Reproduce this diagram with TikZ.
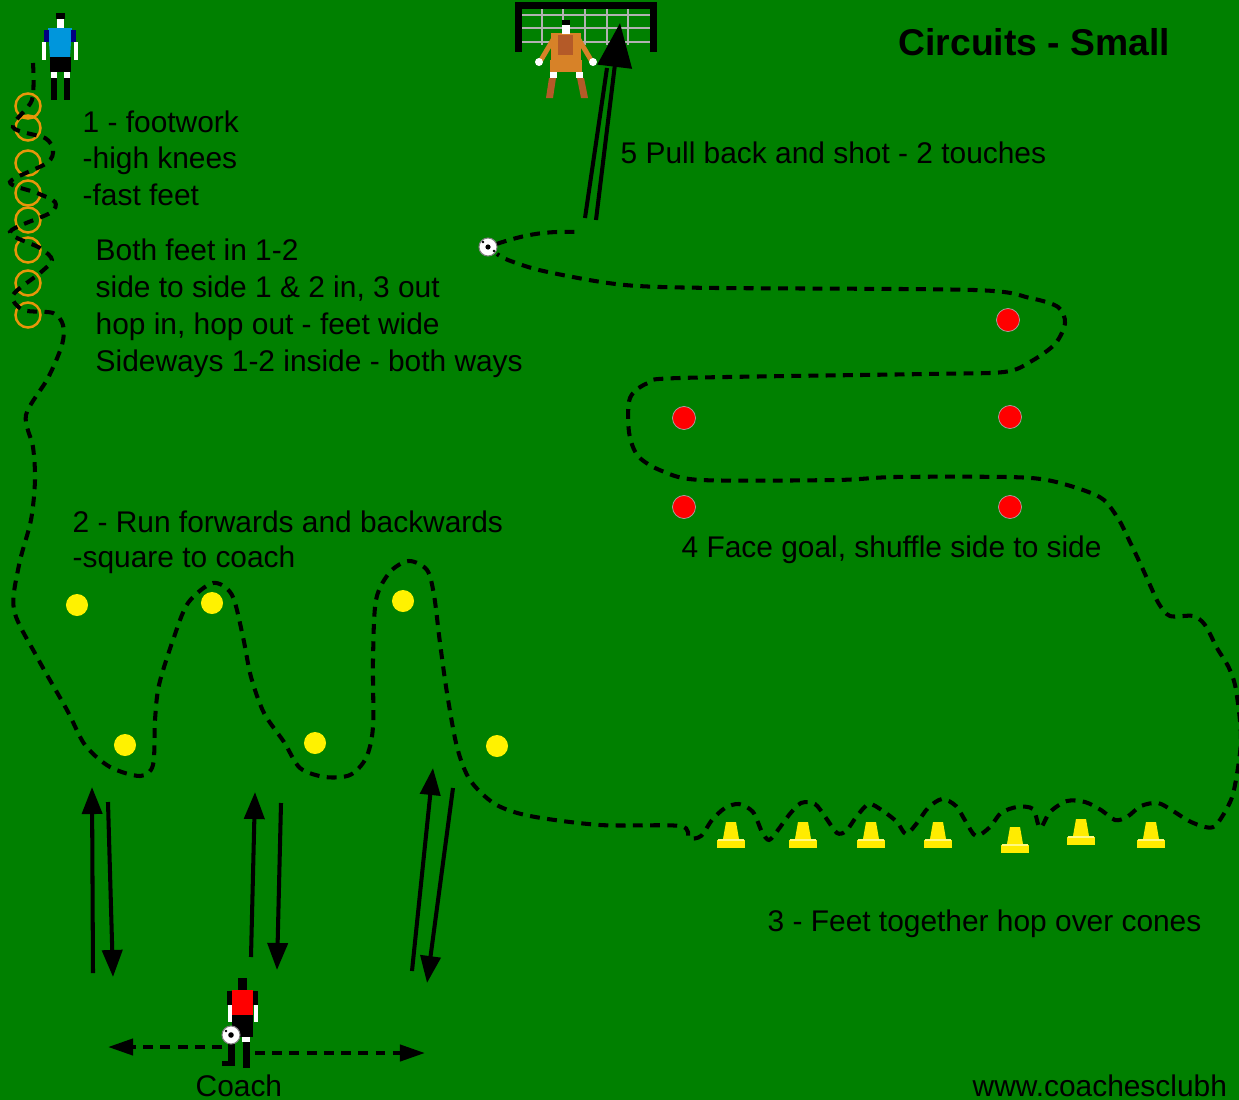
\documentclass[tikz,border=0pt]{standalone}
\usepackage{fontspec}
\setmainfont{Liberation Sans}
\usepackage{tikz}
\usetikzlibrary{arrows.meta,positioning}

\definecolor{pitch}{RGB}{0,128,0}
\definecolor{ringorange}{RGB}{232,150,10}
\definecolor{coneyellow}{RGB}{255,236,0}
\definecolor{keeper}{RGB}{215,130,40}
\definecolor{keeperdark}{RGB}{180,90,40}
\definecolor{shirtblue}{RGB}{0,150,220}

\begin{document}
\begin{tikzpicture}[x = 0.01cm, y = -0.01cm]
%\draw[very thin, color = gray, step = 100](0, 0) grid (1239, 1100);
\tikzstyle{txt} = [anchor = west, inner sep = 0, align = left,
  font = \fontsize{8.5}{10.4}\selectfont];
\tikzstyle{title} = [anchor = west, inner sep = 0,
  font = \bfseries\fontsize{10.6}{12}\selectfont];
\tikzstyle{route} = [draw, line width = 1.15pt, dash pattern = on 2.8pt off 2.1pt];
\tikzstyle{line} = [draw, line width = 1.15pt, -{Triangle[length = 0.27cm, width = 0.2cm]}]
\tikzstyle{shuffle} = [route, -{Triangle[length = 0.25cm, width = 0.16cm]}]
\tikzstyle{ring} = [circle, draw = ringorange, line width = 0.7pt, minimum size = 0.25cm, inner sep = 0]
\tikzstyle{ydot} = [circle, fill = yellow, minimum size = 0.22cm, inner sep = 0]
\tikzstyle{rdot} = [circle, fill = red, draw = gray!70, line width = 0.2pt, minimum size = 0.23cm, inner sep = 0]
\tikzstyle{ball} = [circle, fill = white, draw = gray, line width = 0.3pt, minimum size = 0.18cm, inner sep = 0]

\clip (0, 0) rectangle (1239, 1100);
\fill [pitch] (0, 0) rectangle (1239, 1100);

% goal
\fill [black] (515, 2) rectangle (657, 9);
\fill [black] (515, 2) rectangle (522, 52);
\fill [black] (650, 2) rectangle (657, 52);
\foreach \nx in {542, 563, 585, 607, 628}
  \draw [gray!60, line width = 0.5pt] (\nx, 9) -- (\nx, 45);
\foreach \ny in {15, 28, 42}
  \draw [gray!60, line width = 0.5pt] (522, \ny) -- (650, \ny);

% keeper
\draw [keeper, line width = 1.4pt] (554, 38) -- (541, 60);
\draw [keeper, line width = 1.4pt] (578, 38) -- (591, 60);
\fill [white] (539, 62) circle (4);
\fill [white] (593, 62) circle (4);
\fill [keeper] (551, 33) rectangle (581, 63);
\fill [keeperdark] (558, 35) rectangle (573, 55);
\fill [black] (562, 20) rectangle (570, 25);
\fill [white] (562, 25) rectangle (570, 34);
\fill [keeper] (550, 60) rectangle (582, 72);
\fill [white] (550, 72) rectangle (557, 78);
\fill [white] (576, 72) rectangle (583, 78);
\fill [keeperdark] (549, 78) -- (556, 78) -- (553, 98) -- (546, 98) -- cycle;
\fill [keeperdark] (577, 78) -- (584, 78) -- (588, 98) -- (581, 98) -- cycle;

% player on the rings
\fill [shirtblue] (48, 28) -- (72, 28) -- (70, 57) -- (50, 57) -- cycle;
\fill [blue!50!black] (44, 30) rectangle (49, 42);
\fill [blue!50!black] (71, 30) rectangle (76, 42);
\fill [white] (42, 42) rectangle (46, 60);
\fill [white] (74, 42) rectangle (78, 60);
\fill [black] (56, 13) rectangle (65, 19);
\fill [white] (57, 19) rectangle (64, 28);
\fill [black] (50, 57) rectangle (71, 72);
\fill [white] (51, 72) rectangle (57, 78);
\fill [white] (64, 72) rectangle (70, 78);
\fill [black] (51, 78) rectangle (57, 100);
\fill [black] (64, 78) rectangle (70, 100);

% coach
\fill [black] (227, 991) rectangle (258, 1005);
\fill [white] (228, 1005) rectangle (232, 1022);
\fill [white] (254, 1005) rectangle (258, 1022);
\fill [red] (232, 990) rectangle (253, 1017);
\fill [black] (238, 978) rectangle (247, 990);
\fill [black] (232, 1015) rectangle (253, 1037);
\fill [white] (242, 1037) rectangle (250, 1042);
\fill [black] (228, 1037) rectangle (235, 1065);
\fill [black] (243, 1042) rectangle (250, 1068);
\fill [black] (222, 1061) rectangle (235, 1066);
\node [ball] (coachball) at (231, 1035) {};
\fill [black] (231, 1035) circle (2.8);
\fill [black] (226, 1031) circle (1.4);
\coordinate (coach) at (240, 1030);

% rings, markers and cones
\foreach \ry [count = \i] in {106, 128, 163, 193, 220, 250, 283, 315}
  \node [ring] (ring\i) at (28, \ry) {};
\node [ydot] (y1) at (77, 605) {};
\node [ydot] (y2) at (212, 603) {};
\node [ydot] (y3) at (403, 601) {};
\node [ydot] (y4) at (125, 745) {};
\node [ydot] (y5) at (315, 743) {};
\node [ydot] (y6) at (497, 746) {};
\node [rdot] (r1) at (1008, 320) {};
\node [rdot] (r2) at (684, 418) {};
\node [rdot] (r3) at (1010, 417) {};
\node [rdot] (r4) at (684, 507) {};
\node [rdot] (r5) at (1010, 507) {};
\foreach \cx/\cy in {731/0, 803/0, 871/0, 938/0, 1015/5, 1081/-3, 1151/0} {
  \fill [coneyellow] (\cx-5, 822+\cy) -- (\cx+5, 822+\cy) -- (\cx+8, 839+\cy) -- (\cx-8, 839+\cy) -- cycle;
  \fill [coneyellow] (\cx-14, 840+\cy) rectangle (\cx+14, 848+\cy);
  \draw [yellow!50!white, line width = 0.4pt] (\cx-13, 840+\cy) -- (\cx+13, 840+\cy);
}

% the circuit
\draw [route] plot [smooth, tension = 0.5] coordinates {
  (33, 63) (32, 100) (13, 127) (45, 138) (53, 150) (47, 163) (10, 182)
  (37, 193) (55, 202) (50, 213) (10, 232) (40, 248) (52, 260) (40, 273)
  (13, 295) (23, 310) (53, 313) (63, 325) (62, 345) (48, 378) (26, 415)
  (33, 447) (35, 480) (31, 520) (19, 565) (14, 610) (37, 657) (67, 710)
  (85, 745) (110, 767) (140, 776) (153, 765) (155, 720) (159, 685) (173, 640)
  (188, 603) (213, 583) (232, 595) (243, 637) (251, 677) (264, 713) (284, 742)
  (300, 768) (325, 777) (350, 775) (366, 758) (373, 727) (373, 660) (376, 600)
  (390, 572) (409, 561) (427, 570) (434, 595) (440, 643) (447, 693) (457, 747)
  (470, 780) (495, 804) (530, 816) (600, 825) (680, 826)
  (689, 838) (701, 836) (712, 820) (725, 808) (739, 804) (753, 812) (762, 832) (769, 840)
  (778, 830) (789, 815) (801, 803) (815, 804) (826, 818) (837, 833) (846, 831)
  (857, 816) (869, 804) (883, 811) (897, 822) (906, 834) (917, 823) (928, 808)
  (942, 799) (956, 806) (966, 822) (976, 836) (990, 827) (1001, 813) (1017, 807)
  (1033, 809) (1040, 828) (1050, 812) (1067, 801) (1085, 802) (1101, 810) (1115, 820)
  (1127, 817) (1141, 806) (1158, 803) (1173, 811) (1189, 821) (1205, 827) (1215, 826)
  (1226, 810) (1234, 790) (1241, 740) (1236, 690) (1229, 668) (1217, 648) (1205, 625)
  (1193, 616) (1170, 616) (1159, 604) (1150, 585) (1140, 563) (1129, 540) (1119, 520)
  (1104, 500) (1083, 490) (1047, 480) (1007, 477) (895, 477) (836, 480) (701, 480)
  (662, 471) (638, 456) (629, 432) (630, 398) (648, 383) (680, 378) (927, 374)
  (1004, 372) (1030, 362) (1055, 344) (1065, 323) (1058, 307) (1030, 298) (974, 290)
  (717, 288) (638, 286) (595, 281) (539, 270) (508, 260) (497, 254)};

% pull back and shot
\node [ball] (ball) at (488, 247) {};
\fill [black] (488, 247) circle (2.6);
\fill [black] (483, 242) circle (1.4);
\fill [black] (494, 251) circle (1.4);
\coordinate (pullend) at (578, 232);
\coordinate (shotA) at (585, 218);
\coordinate (shotAend) at (607, 68);
\coordinate (shotB) at (596, 220);
\coordinate (goalspot) at (620, 23);
\draw [route] (ball) to [bend left = 10] (pullend);
\draw [line width = 1.15pt] (shotA) -- (shotAend);
\draw [line width = 1.15pt, -{Triangle[length = 0.44cm, width = 0.34cm]}] (shotB) -- (goalspot);

% forwards and backwards
\coordinate (f1) at (93, 973);   \coordinate (f1e) at (92, 787);
\coordinate (b1) at (108, 802);  \coordinate (b1e) at (113, 977);
\coordinate (f2) at (251, 957);  \coordinate (f2e) at (255, 792);
\coordinate (b2) at (281, 803);  \coordinate (b2e) at (277, 970);
\coordinate (f3) at (412, 971);  \coordinate (f3e) at (433, 768);
\coordinate (b3) at (453, 788);  \coordinate (b3e) at (427, 983);
\path [line] (f1) -- (f1e);
\path [line] (b1) -- (b1e);
\path [line] (f2) -- (f2e);
\path [line] (b2) -- (b2e);
\path [line] (f3) -- (f3e);
\path [line] (b3) -- (b3e);

% coach moves side to side
\coordinate (coachL) at (222, 1047);  \coordinate (sideL) at (108, 1047);
\coordinate (coachR) at (255, 1053);  \coordinate (sideR) at (425, 1053);
\path [shuffle] (coachL) -- (sideL);
\path [shuffle] (coachR) -- (sideR);

% labels
\node [title] (heading) at (898, 42) {Circuits - Small};
\node [txt] (footwork) at (82, 158) {1 - footwork\\-high knees\\-fast feet};
\node [txt, font = \fontsize{8.5}{10.5}\selectfont] (ringwork) at (95, 308)
  {Both feet in 1-2\\side to side 1 \& 2 in, 3 out\\hop in, hop out - feet wide\\Sideways 1-2 inside - both ways};
\node [txt, font = \fontsize{8.5}{10}\selectfont] (runs) at (72, 542) {2 - Run forwards and backwards\\-square to coach};
\node [txt] (shot) at (620, 153) {5 Pull back and shot - 2 touches};
\node [txt] (shuffle) at (681, 550) {4 Face goal, shuffle side to side};
\node [txt] (hops) at (767, 924) {3 - Feet together hop over cones};
\node [txt] (coachlabel) at (195, 1086) {Coach};
\node [txt] (web) at (972, 1086) {www.coachesclubh};
\end{tikzpicture}
\end{document}
